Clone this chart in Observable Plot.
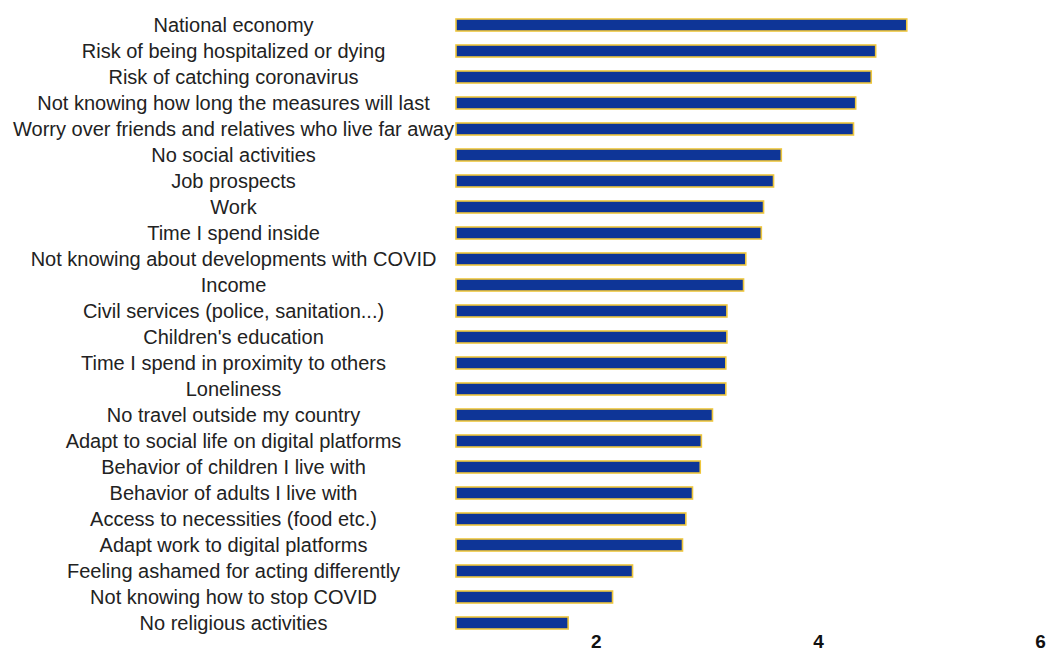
<!DOCTYPE html>
<html>
<head>
<meta charset="utf-8">
<script src="https://cdn.jsdelivr.net/npm/d3@7"></script>
<script src="https://cdn.jsdelivr.net/npm/@observablehq/plot@0.6"></script>
<style>
  html, body { margin: 0; padding: 0; background: #ffffff; }
  #chart svg { display: block; }
</style>
</head>
<body>
<div id="chart"></div>
<script>
const categories = [
  "National economy",
  "Risk of being hospitalized or dying",
  "Risk of catching coronavirus",
  "Not knowing how long the measures will last",
  "Worry over friends and relatives who live far away",
  "No social activities",
  "Job prospects",
  "Work",
  "Time I spend inside",
  "Not knowing about developments with COVID",
  "Income",
  "Civil services (police, sanitation...)",
  "Children's education",
  "Time I spend in proximity to others",
  "Loneliness",
  "No travel outside my country",
  "Adapt to social life on digital platforms",
  "Behavior of children I live with",
  "Behavior of adults I live with",
  "Access to necessities (food etc.)",
  "Adapt work to digital platforms",
  "Feeling ashamed for acting differently",
  "Not knowing how to stop COVID",
  "No religious activities"
];
const values = [
  4.80, 4.52, 4.48, 4.34, 4.32,
  3.67, 3.60, 3.51, 3.49, 3.35,
  3.33, 3.18, 3.18, 3.17, 3.17,
  3.05, 2.95, 2.94, 2.87, 2.81,
  2.78, 2.33, 2.15, 1.75
];
const xTicks = [2, 4, 6];
const xDomain = [0.74, 6];

const data = categories.map((c, i) => ({category: c, value: values[i]}));

const chart = Plot.plot({
  width: 1052,
  height: 662,
  marginLeft: 456,
  marginRight: 12,
  marginTop: 10,
  marginBottom: 23,
  style: {fontFamily: "'Liberation Sans', Arial, sans-serif", background: "#ffffff"},
  x: {domain: xDomain, clamp: true},
  y: {domain: categories, paddingInner: 0.53, paddingOuter: 0.265},
  marks: [
    Plot.barX(data, {
      x1: 0,
      x2: "value",
      y: "category",
      fill: "#0e3597",
      stroke: "#eec63c",
      strokeWidth: 1.6
    }),
    Plot.axisY({
      tickSize: 0,
      tickPadding: 0,
      textAnchor: "middle",
      dx: -223,
      fontSize: 20,
      fill: "#222222",
      label: null
    }),
    Plot.axisX({
      ticks: xTicks,
      tickSize: 0,
      tickPadding: -5,
      tickFormat: d => String(d),
      fontSize: 19,
      fontWeight: "bold",
      fill: "#111111",
      label: null
    })
  ]
});
document.getElementById("chart").appendChild(chart);
</script>
</body>
</html>
